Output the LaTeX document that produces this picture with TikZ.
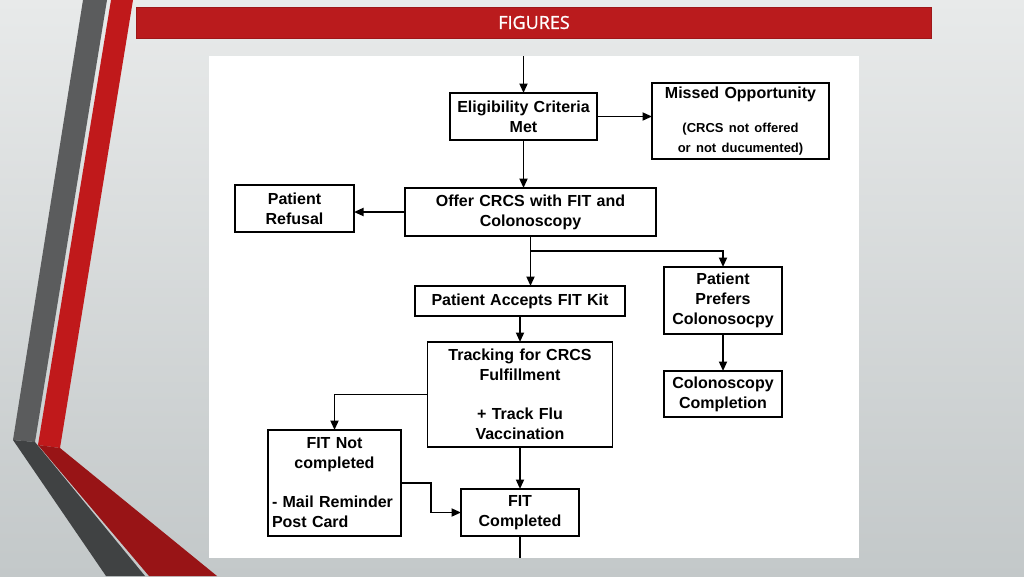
\documentclass[tikz,border=0pt]{standalone}
\usepackage{fontspec}
\setmainfont{Liberation Sans}
\newfontfamily\headfont[FakeBold=1.2]{Open Sans}
\usepackage{tikz}
\usetikzlibrary{arrows.meta, positioning, calc}
\usepackage{xcolor}
\definecolor{bgtop}{HTML}{E8EAEA}
\definecolor{bgbottom}{HTML}{C3C8C9}
\definecolor{barred}{HTML}{C0191B}
\definecolor{bardarkred}{HTML}{981416}
\definecolor{bargray}{HTML}{5B5C5D}
\definecolor{bardarkgray}{HTML}{404243}
\definecolor{headred}{HTML}{BA1B1D}

\begin{document}
\begin{tikzpicture}[
    x=1pt, y=-1pt,
    >={Triangle[length=9.5pt, width=8pt]},
    box/.style={
        draw,
        line width=1.8pt,
        inner sep=4pt,
        outer sep=0pt,
        align=center,
        font=\fontsize{16}{20}\selectfont\bfseries
    },
    wire/.style={line width=1.8pt},
    link/.style={wire, ->}
]

% Slide background
\useasboundingbox (0,0) rectangle (1024,576);
\shade[top color=bgtop, bottom color=bgbottom] (0,0) rectangle (1024,576);
\fill[bargray] (83,0) -- (107,0) -- (35,442) -- (13,440) -- cycle;
\fill[barred] (111,0) -- (133,0) -- (60,448) -- (38,445) -- cycle;
\fill[bardarkgray] (13,440) -- (35,442) -- (145,576) -- (106,576) -- cycle;
\fill[bardarkred] (38,445) -- (60,448) -- (217,576) -- (149,576) -- cycle;
\fill[headred, draw=headred!85!black] (136,7) rectangle (931,38);
\node[font=\headfont\fontsize{18}{20}\selectfont, text=white] (title) at (534,22.5) {FIGURES};
\fill[white] (209,56) rectangle (859,558);
\coordinate (paneltop) at (0,56);
\coordinate (panelbottom) at (0,558);

% Nodes
\node[box, text width=139pt, minimum height=47pt] (elig) at (523.5,116.5) {Eligibility Criteria\\Met};
\node[box, text width=169pt, minimum height=74pt, right=55pt of elig, yshift=-4.5pt] (missed)
    {Missed Opportunity\\[18pt]\fontsize{13}{16}\selectfont (CRCS not offered\\or not ducumented)};
\node[box, text width=243pt, minimum height=48pt, below=48pt of elig, xshift=7pt] (offer) {Offer CRCS with FIT and\\Colonoscopy};
\node[box, text width=111pt, minimum height=47pt, left=51pt of offer, yshift=3.5pt] (refusal) {Patient\\Refusal};
\node[box, text width=202pt, minimum height=30pt, below=50pt of offer, xshift=-10.5pt] (accepts) {Patient Accepts FIT Kit};
\node[box, text width=110pt, minimum height=67pt, below=31pt of offer, xshift=192.5pt] (prefers) {Patient\\Prefers\\Colonosocpy};
\node[box, text width=110pt, minimum height=46pt, below=37pt of prefers] (colocomp) {Colonoscopy\\Completion};
\node[box, text width=177pt, minimum height=105pt, below=26pt of accepts] (tracking)
    {Tracking for CRCS\\Fulfillment\\[19pt]+ Track Flu\\Vaccination};
\node[box, text width=110pt, minimum height=47pt, below=42pt of tracking] (fitdone) {FIT\\Completed};
\node[box, text width=125pt, minimum height=106pt, align=left, left=60pt of fitdone, yshift=29.5pt] (fitnot)
    {{\centering FIT Not\\completed\par}\vspace{19pt}- Mail Reminder\\Post Card};

% Main flow
\draw[link] (elig.north |- paneltop) -- (elig.north);
\draw[link] (elig.east) -- (elig.east -| missed.west);
\draw[link] (elig.south) -- (elig.south |- offer.north);
\draw[link] (offer.west) -- (offer.west -| refusal.east);

% Split after the offer
\coordinate (split) at ($(offer.south)+(0,15)$);
\draw[wire] (offer.south) -- (split);
\draw[link] (split) -- (split |- accepts.north);
\draw[link] (split) -| (prefers.north);
\draw[link] (prefers.south) -- (colocomp.north);

% FIT tracking
\draw[link] (accepts.south) -- (tracking.north);
\draw[link] (tracking.west) -| (fitnot.north);
\draw[link] (tracking.south) -- (fitdone.north);
\draw[link] (fitnot.east) -- ++(30,0) |- (fitdone.west);
\draw[wire] (fitdone.south) -- (fitdone.south |- panelbottom);

\end{tikzpicture}
\end{document}
